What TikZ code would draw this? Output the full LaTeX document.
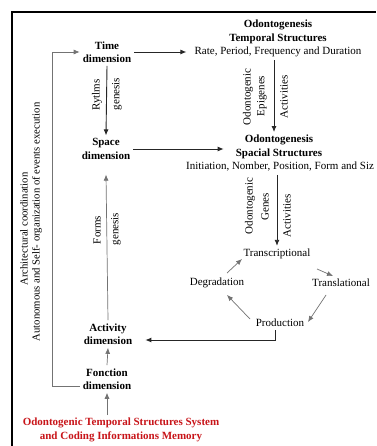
\documentclass[tikz,border=0pt]{standalone}
\usepackage{fontspec}
\setmainfont{Liberation Serif}
\usetikzlibrary{arrows.meta}
\definecolor{memred}{RGB}{200,20,25}
\begin{document}
\begin{tikzpicture}[x=1pt,y=-1pt,
  every node/.style={font=\fontsize{11}{13.5}\selectfont, inner sep=3pt, align=center},
  bnode/.style={font=\fontsize{11}{13.5}\selectfont\bfseries},
  vlab/.style={rotate=90, font=\fontsize{11}{12.5}\selectfont},
  slab/.style={rotate=90, font=\fontsize{10.7}{12.5}\selectfont},
  arr/.style={draw=black!85, line width=0.9pt, -{Latex[length=6pt,width=5pt]}},
  garr/.style={draw=black!55, line width=0.7pt, -{Latex[length=6pt,width=5pt]}},
  frame/.style={draw=black, line width=1.6pt}]
\fill[white] (0,0) rectangle (376,446);
\useasboundingbox (0,0) rectangle (376,446);
\draw[frame] (12,446) -- (12,12) -- (376,12);

% left dimension column
\node[bnode] (time) at (107,52) {Time\\dimension};
\node[bnode] (space) at (106,149) {Space\\dimension};
\node[bnode] (act) at (108,334) {Activity\\dimension};
\node[bnode] (fonc) at (107,379) {Fonction\\dimension};
\node[bnode, text=memred] (mem) at (121,430) {Odontogenic Temporal Structures System\\and Coding Informations Memory};

% right structures
\node[bnode] (temph) at (278,32) {Odontogenesis\\Temporal Structures};
\node (rate) at (278,52) {Rate, Period, Frequency and Duration};
\node[bnode] (spah) at (279,147) {Odontogenesis\\Spacial Structures};
\node[anchor=west] (init) at (183,167) {Initiation, Nomber, Position, Form and Siz};

% cycle
\node (trans) at (277,254) {Transcriptional};
\node (degr) at (217,283) {Degradation};
\node (transl) at (341,283) {Translational};
\node (prod) at (280,323) {Production};

% rotated labels
\node[vlab] (ryt) at (97,95) {Rytlms};
\node[vlab] (gen1) at (117,94) {genesis};
\node[vlab] (forms) at (97,230) {Forms};
\node[vlab] (gen2) at (116,229) {genesis};
\node[vlab] (odo1) at (248,97) {Odontogenic};
\node[vlab] (epi) at (262,96) {Epigenes};
\node[vlab] (act1) at (284,97) {Activities};
\node[vlab] (odo2) at (250,206) {Odontogenic};
\node[vlab] (genes) at (265,207) {Genes};
\node[vlab] (act2) at (287,216) {Activities};
\node[slab] (arch) at (24,229) {Architectural coordination};
\node[slab] (auto) at (37,222) {Autonomous and Self- organization of events execution};

% connectors
\coordinate (tl) at (52,52);
\draw[garr] ([yshift=-7pt]fonc.west) -| (tl) -- (time.west);
\draw[arr] (time.east) -- ([xshift=-5pt]rate.west);
\draw[arr] (time.south) -- (space.north);
\draw[arr] (space.east) -- ([xshift=-9pt]space.east -| spah.west);
\draw[arr] ([xshift=-4pt]rate.south) -- ([xshift=-5pt]spah.north);
\draw[arr] (trans.north |- init.south) -- (trans.north);
\draw[garr] ([shift={(10,-10)}]degr.center) -- ([shift={(-35,5)}]trans.center);
\draw[garr] ([shift={(40,15)}]trans.center) -- ([shift={(-8,-7)}]transl.center);
\draw[garr] ([shift={(-15,12)}]transl.center) -- ([shift={(28,-1)}]prod.center);
\draw[garr] ([shift={(-30,-4)}]prod.center) -- ([shift={(10,12)}]degr.center);
\draw[arr] ([xshift=-5pt]prod.south) |- ([xshift=10pt,yshift=-6pt]act.east);
\draw[garr] (act.north) -- ([yshift=-12pt]space.south);
\draw[garr] (fonc.north) -- (act.south);
\draw[garr] (mem.north -| fonc) -- (fonc.south);
\end{tikzpicture}
\end{document}
